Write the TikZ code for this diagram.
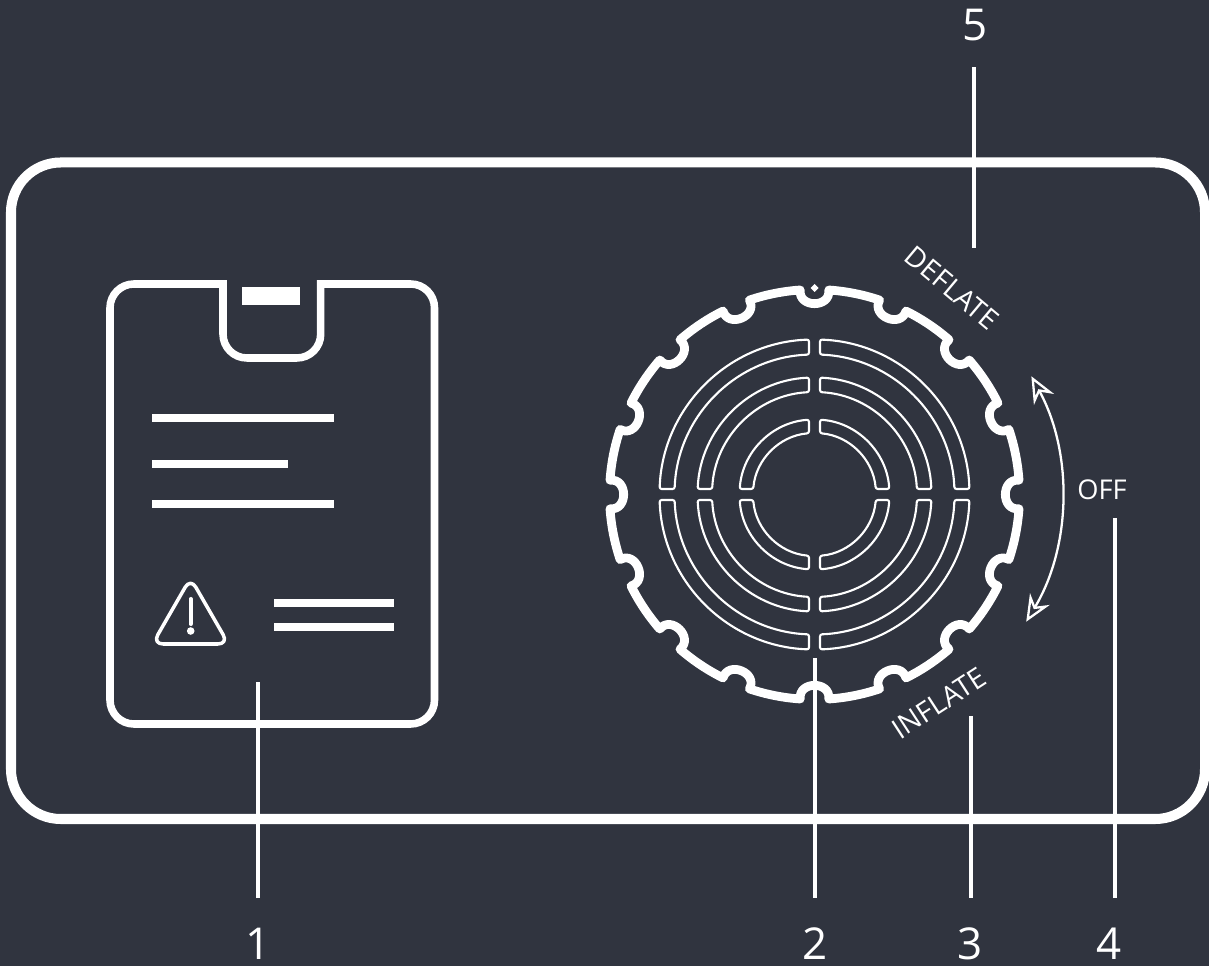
\documentclass[tikz,border=0pt]{standalone}
\usepackage{fontspec}
\setmainfont{Open Sans}
\usetikzlibrary{positioning, calc, arrows.meta}
\definecolor{panelBg}{RGB}{48, 52, 63}
\tikzset{
  housing/.style={white, line width=5.7pt},
  cardline/.style={white, line width=4.3pt},
  rimline/.style={white, line width=5pt, line join=round},
  leader/.style={white, line width=2.8pt, shorten <=17pt},
  textline/.style={white, line width=4.4pt},
  slot/.style={white, line width=1.2pt, line join=round},
  callout/.style={white, font=\fontsize{25}{28}\selectfont, inner sep=0pt},
  dialtext/.style={white, font=\fontsize{16}{18}\selectfont, inner sep=0pt},
  turntip/.tip={Stealth[length=15pt, width=13pt, inset=5pt, fill=panelBg]},
  turn/.style={white, line width=1.3pt, {turntip}-{turntip}},
}

\begin{document}
\begin{tikzpicture}[x=0.02cm, y=0.02cm]
    % Coordinates are image pixels with y measured upwards (y = 966 - row).
    \useasboundingbox (0,0) rectangle (1209,966);
    \fill[panelBg] (0,0) rectangle (1209,966);

    %% ── housing ──────────────────────────────────────────────
    \draw[housing, rounded corners=28.3pt] (11,147) rectangle (1205,803.5);

    %% ── instruction card (left) ──────────────────────────────
    \draw[cardline, rounded corners=13.6pt] (220,682) -- (110,682) -- (110,242) -- (434.5,242)
      -- (434.5,682) [sharp corners] -- (320.7,682) [rounded corners=13.6pt] -- (320.7,608)
      -- (223,608) -- (223,685.8);
    \fill[white] (242,661) rectangle (300,679);
    % text lines
    \draw[textline] (152,548) -- (334,548);
    \draw[textline] (152,502) -- (288,502);
    \draw[textline] (152,462) -- (334,462);
    \draw[textline] (274,363) -- (394,363);
    \draw[textline] (274,339) -- (394,339);
    % warning sign
    \draw[white, line width=2pt, rounded corners=6pt, line join=round]
      (190.5,388) -- (152.5,322) -- (228.5,322) -- cycle;
    \draw[white, line width=2.3pt, line cap=round] (190.7,367) -- (190.7,342);
    \fill[white] (190.7,335) circle (3.8);

    %% ── dial (centre) ────────────────────────────────────────
    \begin{scope}[shift={(814.5,471.5)}]
      % rim with 16 notches
      \draw[rimline] (4:205)
        \foreach \a in {0,22.5,...,337.5} {
          arc[start angle=\a+4, end angle=\a+18.5, radius=205]
          .. controls ({\a+17.5}:187) and ({\a+27.5}:187) .. ({\a+26.5}:205)
        } -- cycle;
      \fill[white] (0,210.5) -- (4,206.5) -- (0,202.5) -- (-4,206.5) -- cycle;
      % three rings of four slots
      \foreach \ro/\ri in {155/140, 117/102.5, 75/61.5} {
        \foreach \q in {0,90,180,270} {
          \pgfmathsetmacro{\ao}{asin(5.5/\ro)}
          \pgfmathsetmacro{\ai}{asin(5.5/\ri)}
          \draw[slot, rounded corners=1.2pt] ({\q+\ao}:\ro)
            arc[start angle=\q+\ao, end angle=\q+90-\ao, radius=\ro]
            -- ({\q+90-\ai}:\ri)
            arc[start angle=\q+90-\ai, end angle=\q+\ai, radius=\ri] -- cycle;
        }
      }
      % direction arrows
      \draw[turn] (28.6:247) arc[start angle=28.6, end angle=-31, radius=247];
    \end{scope}
    \node[dialtext, rotate=-40] (deflate) at (952,678) {DEFLATE};
    \node[dialtext, rotate=33] (inflate) at (939,263) {INFLATE};
    \node[dialtext, font=\fontsize{15.5}{18}\selectfont] (off) at (1102,476) {OFF};

    %% ── callouts ─────────────────────────────────────────────
    \node[callout] (num1) at (258,22) {1};
    \node[callout] (num2) at (815,22) {2};
    \node[callout] (num3) at (970,22) {3};
    \node[callout] (num4) at (1109,22) {4};
    \node[callout] (num5) at (975,940.5) {5};
    \coordinate (end1) at (258,284);
    \coordinate (end2) at (815,308);
    \coordinate (end3) at (971,250);
    \coordinate (end4) at (1115,448);
    \coordinate (end5) at (974,718);
    \foreach \i in {1,...,4} {
      \draw[leader] (num\i.north -| end\i) -- (end\i);
    }
    \draw[leader, shorten <=14.5pt] (num5.south -| end5) -- (end5);
\end{tikzpicture}
\end{document}
